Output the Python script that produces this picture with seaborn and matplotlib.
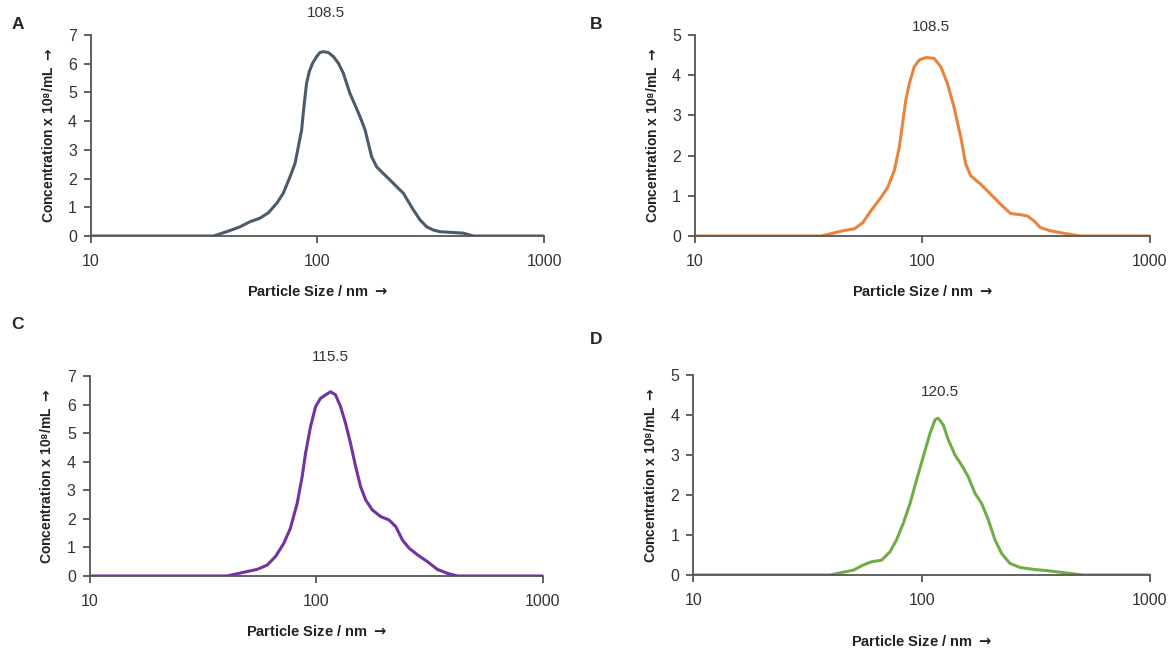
import matplotlib
matplotlib.use("Agg")
import matplotlib.pyplot as plt
from matplotlib.ticker import FixedLocator, FixedFormatter, NullLocator
import numpy as np
import pandas as pd
import seaborn as sns

# particle size (nm) and concentration (x10^8 / mL)
size_a = [10, 34.7, 39.7, 45.5, 50.4, 55.7, 60.7, 66.1, 70.6, 75.7, 79.6, 82.3, 85.1,
          86.5, 88.1, 89.5, 92, 95.2, 99.1, 102.5, 106.1, 111.6, 117.5, 123.6, 130,
          139, 146.5, 154, 162.3, 167.6, 173.4, 182.4, 195, 209, 227.5, 239.4, 251.8,
          264.9, 283.7, 303.6, 324.6, 347.5, 440, 488, 1000]
conc_a = [0, 0, 0.15, 0.32, 0.5, 0.62, 0.81, 1.14, 1.49, 2.07, 2.53, 3.11, 3.69,
          4.27, 4.85, 5.32, 5.73, 6.02, 6.25, 6.39, 6.42, 6.39, 6.25, 6.02, 5.67,
          4.97, 4.56, 4.16, 3.69, 3.23, 2.76, 2.41, 2.18, 1.95, 1.66, 1.49, 1.2,
          0.91, 0.56, 0.32, 0.21, 0.15, 0.1, 0, 0]

size_b = [10, 35.9, 41, 45.4, 50.2, 54.6, 59.4, 65.7, 70.3, 75.2, 79.1, 81.7, 84.5,
          87.5, 92, 96.8, 103.5, 112.5, 120.4, 128.8, 137.6, 147.3, 154.9, 162.9,
          180.2, 199.5, 220.5, 243.8, 269.6, 288.6, 308.6, 329.8, 364.6, 417.6,
          494.6, 1000]
conc_b = [0, 0, 0.08, 0.14, 0.18, 0.33, 0.63, 0.96, 1.21, 1.63, 2.21, 2.79, 3.38,
          3.79, 4.21, 4.38, 4.44, 4.42, 4.21, 3.79, 3.21, 2.46, 1.79, 1.5,
          1.29, 1.04, 0.79, 0.56, 0.53, 0.5, 0.38, 0.21, 0.13, 0.07,
          0, 0]

size_c = [10, 40.4, 47.9, 54.8, 60.7, 66.1, 71.9, 76.9, 82.4, 86.7, 89.7, 94.4, 99.4,
          104.5, 110, 115.7, 121.7, 128.1, 134.8, 141.8, 149.3, 157, 165.3, 177,
          192.6, 209.6, 224.4, 240.2, 257.2, 280, 309.9, 342.8, 380, 421, 1000]
conc_c = [0, 0, 0.13, 0.23, 0.38, 0.68, 1.14, 1.67, 2.54, 3.48, 4.29, 5.23, 5.93,
          6.22, 6.34, 6.45, 6.34, 5.93, 5.34, 4.64, 3.83, 3.13, 2.66, 2.31,
          2.08, 1.96, 1.73, 1.26, 0.97, 0.74, 0.5, 0.23, 0.09, 0, 0]

size_d = [10, 39.7, 45.4, 50.2, 55.5, 60.4, 66.8, 72.7, 77.7, 83.1, 89, 95.1, 101.7,
          108.9, 114.5, 118.3, 124.5, 130.9, 140, 149.6, 160, 171.4, 183.2, 196,
          209.6, 224, 243.8, 269.6, 308.6, 353.2, 417.6, 510.5, 1000]
conc_d = [0, 0, 0.07, 0.12, 0.25, 0.33, 0.37, 0.58, 0.88, 1.29, 1.79, 2.38, 2.96,
          3.54, 3.88, 3.92, 3.75, 3.38, 3.0, 2.75, 2.46, 2.04, 1.79, 1.38,
          0.88, 0.54, 0.29, 0.19, 0.14, 0.11, 0.06, 0, 0]

panels = ["A", "B", "C", "D"]
peaks = ["108.5", "108.5", "115.5", "120.5"]
ymax = [7, 5, 7, 5]
colors = ["#4b5b6b", "#e8843c", "#7133a3", "#70ad47"]

sns.set_style("ticks")
plt.rcParams["font.family"] = ["Liberation Sans", "DejaVu Sans"]
plt.rcParams["mathtext.fontset"] = "dejavusans"

fig = plt.figure(figsize=(11.72, 6.52), dpi=100)
boxes = [[0.0776, 0.638, 0.3866, 0.3083],
         [0.5930, 0.638, 0.3882, 0.3083],
         [0.0765, 0.1166, 0.3866, 0.3067],
         [0.5916, 0.1181, 0.3895, 0.3068]]
label_y = [7.75, 5.2, 7.65, 4.57]
xlabel_pad = [11, 11, 11, 19]
letter_pos = [(0.015, 0.962), (0.509, 0.962), (0.015, 0.502), (0.509, 0.479)]

data = [(size_a, conc_a), (size_b, conc_b), (size_c, conc_c), (size_d, conc_d)]

for i, (sz, cc) in enumerate(data):
    ax = fig.add_axes(boxes[i])
    df = pd.DataFrame({"size": sz, "conc": cc})
    sns.lineplot(data=df, x="size", y="conc", ax=ax, color=colors[i], linewidth=2.2)
    ax.set_xscale("log")
    ax.set_xlim(10, 1000)
    ax.set_ylim(0, ymax[i])
    ax.xaxis.set_major_locator(FixedLocator([10, 100, 1000]))
    ax.xaxis.set_major_formatter(FixedFormatter(["10", "100", "1000"]))
    ax.xaxis.set_minor_locator(NullLocator())
    ax.set_yticks(range(ymax[i] + 1))
    for s in ["top", "right"]:
        ax.spines[s].set_visible(False)
    for s in ["left", "bottom"]:
        ax.spines[s].set_color("#555555")
        ax.spines[s].set_linewidth(1.3)
    ax.tick_params(axis="both", colors="#555555", labelcolor="#333333",
                   labelsize=11.5, width=1.3, length=5)
    ax.tick_params(axis="x", pad=8)
    ax.tick_params(axis="y", pad=5)
    ax.set_xlabel(r"Particle Size / nm $\mathbf{\rightarrow}$", fontsize=10.5,
                  fontweight="bold", labelpad=xlabel_pad[i], color="#222222")
    ax.set_ylabel("Concentration x 10\u2078/mL " + r"$\mathbf{\rightarrow}$",
                  fontsize=10, fontweight="bold", labelpad=9, color="#222222")
    ax.text(float(peaks[i]), label_y[i], peaks[i], ha="center", va="center",
            fontsize=11, color="#333333", clip_on=False)
    fig.text(letter_pos[i][0], letter_pos[i][1], panels[i], fontsize=12.5,
             fontweight="bold", ha="center", va="center")

fig.savefig("out.png", dpi=100)
